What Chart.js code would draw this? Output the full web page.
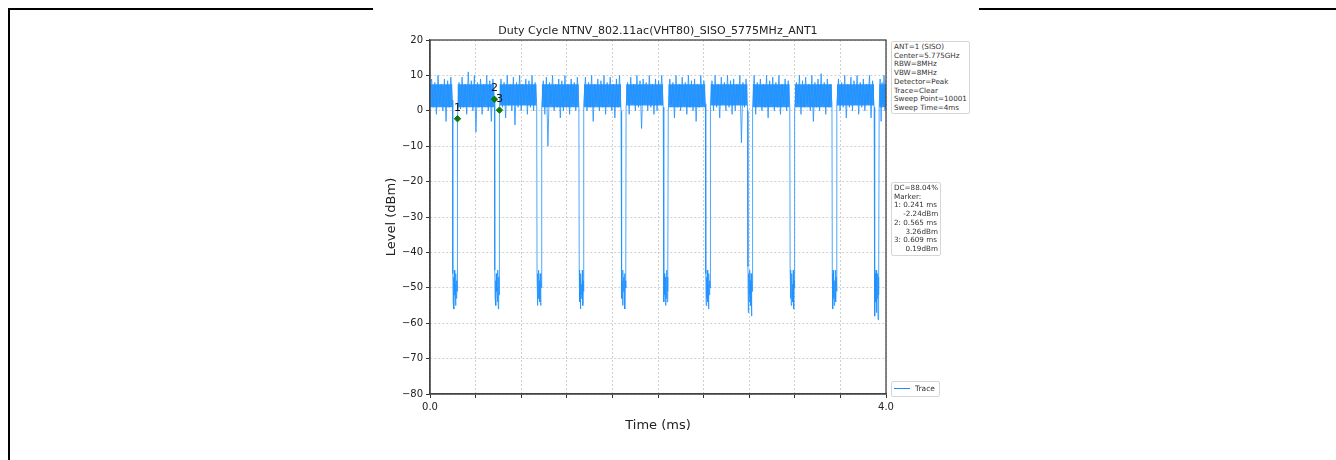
<!DOCTYPE html>
<html>
<head>
<meta charset="utf-8">
<script src="https://cdn.jsdelivr.net/npm/chart.js@4.4.0/dist/chart.umd.min.js"></script>
<style>
  html, body { margin: 0; padding: 0; background: #fff; }
  body { width: 1336px; height: 460px; position: relative; overflow: hidden; font-family: "DejaVu Sans", sans-serif; }
  #chart { position: absolute; left: 0; top: 0; }
  .rule { position: absolute; background: #000; }
  .title { position: absolute; left: 430px; width: 456px; top: 24px; text-align: center; font-size: 11px; color: #222; line-height: 13px; }
  .box { position: absolute; background: #fff; border: 1px solid #d6d6d6; border-radius: 2px; font-size: 7.2px; line-height: 8.7px; color: #333; white-space: pre; padding: 1px 2px; }
  .swatch { display: inline-block; width: 16px; height: 1px; background: #1e90ff; vertical-align: middle; margin-right: 5px; }
</style>
</head>
<body>
<div class="rule" style="left:8px; top:8px; width:365px; height:2px;"></div>
<div class="rule" style="left:979px; top:8px; width:357px; height:2px;"></div>
<div class="rule" style="left:8px; top:8px; width:2px; height:452px;"></div>

<canvas id="chart" width="1336" height="460"></canvas>

<div class="title">Duty Cycle NTNV_802.11ac(VHT80)_SISO_5775MHz_ANT1</div>
<div class="box" style="left:891px; top:41px; width:73px; height:69px;">ANT=1 (SISO)
Center=5.775GHz
RBW=8MHz
VBW=8MHz
Detector=Peak
Trace=Clear
Sweep Point=10001
Sweep Time=4ms</div>
<div class="box" style="left:891px; top:182px; width:44px; height:70px;">DC=88.04%
Marker:
1: 0.241 ms
    -2.24dBm
2: 0.565 ms
     3.26dBm
3: 0.609 ms
     0.19dBm</div>
<div class="box" style="left:891px; top:381px; width:43px; height:12px; line-height:12px; font-size:7.5px;"><span class="swatch"></span>Trace</div>

<script>
// burst on/off timing (ms)
const burstStart = [0.000, 0.241, 0.609, 0.980, 1.350, 1.720, 2.090, 2.460, 2.830, 3.200, 3.570, 3.940];
const burstEnd   = [0.197, 0.565, 0.936, 1.306, 1.676, 2.046, 2.416, 2.786, 3.156, 3.526, 3.896, 4.000];

// level samples inside each burst (dBm)
const burstA = [5, 9, 1, 8, -1, 10, 2, 7.5, 0, 9, -3, 8.5, 1, 9.5, 3];
const burstB = [-2, 8, 0.5, 9.5, 1, 7.5, -1, 11, 2, 8.5, 0, 10, -6, 8, 1, 9, -1, 7.5, 2, 10, 0, 8.5, -3, 9, 3];
const burstC = [0, 9, 1, 8, -2, 10, 1.5, 7.5, 0, 9.5, -4, 8, 1, 10, 0, 7.5, 2, 9, -1, 8.5, 1, 10, 0, 8, 2];
const burstD = [1, 8.5, -1, 9.5, -10, 8, 2, 10, 0, 7.5, 1, 9, -2, 8.5, 0, 10, 1, 7.5, -1, 9, 2, 8, 0, 9.5, 1];
const burstE = [2, 9.5, 0, 8, 1, 10, -3, 7.5, 2, 9, 0, 8.5, 1, 10, -1, 8, 2, 9.5, 0, 7.5, -2, 9, 1, 10, 0];
const burstF = [1, 8, -1, 9.5, 2, 7.5, 0, 10, 1, 8.5, -5, 9, 2, 8, 0, 10, 1, 7.5, -1, 9, 0, 8.5, 2, 10, 1];
const burstG = [0, 9, 2, 8, -2, 10, 1, 7.5, 0, 9.5, 2, 8, -1, 10, 1, 8.5, 0, 9, -3, 7.5, 1, 10, 2, 8.5, 2];
const burstH = [2, 8.5, 0, 10, 1, 7.5, -2, 9.5, 2, 8, 0, 10, 1, 8.5, -1, 9, 0, 7.5, 2, 10, -9, 8, 1, 9, 0];
const burstI = [1, 10, -1, 8, 2, 9, 0, 7.5, 1, 10, -2, 8.5, 2, 9.5, 0, 8, 1, 10, -1, 7.5, 2, 9, 0, 8.5, 1];
const burstJ = [0, 8, 2, 10, -1, 8.5, 1, 9.5, 2, 7.5, 0, 10, -3, 8, 1, 9, 0, 10.5, 2, 8, -1, 9, 1, 7.5, 2];
const burstK = [2, 9, 0, 8, 1, 10, -2, 7.5, 1, 9.5, 0, 8.5, 2, 10, -1, 8, 1, 9, 0, 7.5, 2, 10, -2, 8.5, 1];
const burstL = [1, 9, -3, 8, 2, 10, 0, 8.5];
const bursts = [burstA, burstB, burstC, burstD, burstE, burstF, burstG, burstH, burstI, burstJ, burstK, burstL];

// dense core of each burst (dBm)
const bandHigh = [7.5, 7.5, 7.5, 7.5, 7.5, 7.5, 7.5, 7.5, 7.5, 7.5, 7.5, 7.5];
const bandLow  = [1, 1, 1.5, 1, 1, 1.5, 1, 1.5, 1, 1, 1.5, 1];

// level samples in the off-gaps (dBm)
const gap1  = [-46, -54, -47, -56, -45, -52, -49, -55, -46, -53, -48, -51];
const gap2  = [-45, -53, -48, -55, -46, -51, -50, -54, -45, -56, -47, -52];
const gap3  = [-46, -55, -47, -53, -45, -52, -48, -54, -46, -55, -47, -50];
const gap4  = [-45, -54, -47, -56, -46, -53, -49, -52, -45, -55, -48, -51];
const gap5  = [-46, -53, -48, -55, -45, -51, -47, -54, -46, -56, -48, -50];
const gap6  = [-45, -54, -46, -52, -47, -55, -48, -53, -45, -54, -47, -51];
const gap7  = [-46, -55, -47, -53, -45, -54, -49, -56, -46, -52, -48, -50];
const gap8  = [-44, -57, -46, -54, -45, -52, -48, -55, -46, -58, -47, -51];
const gap9  = [-45, -53, -47, -55, -46, -52, -49, -54, -45, -56, -48, -50];
const gap10 = [-46, -56, -45, -53, -47, -55, -48, -52, -45, -54, -47, -51];
const gap11 = [-44, -58, -46, -54, -45, -57, -48, -53, -46, -59, -47, -52];
const gaps = [gap1, gap2, gap3, gap4, gap5, gap6, gap7, gap8, gap9, gap10, gap11];

// markers
const markerNames  = ['1', '2', '3'];
const markerTimes  = [0.241, 0.565, 0.609];
const markerLevels = [-2.24, 3.26, 0.19];

const yTicks = [20, 10, 0, -10, -20, -30, -40, -50, -60, -70, -80];

// build trace points
const traceData = [];
bursts.forEach((levels, i) => {
    const t0 = burstStart[i], t1 = burstEnd[i];
    levels.forEach((v, k) => traceData.push({ x: t0 + (t1 - t0) * k / (levels.length - 1), y: v }));
    if (i < gaps.length) {
        const g = gaps[i];
        const g0 = t1 + 0.003, g1 = burstStart[i + 1] - 0.003;
        g.forEach((v, k) => traceData.push({ x: g0 + (g1 - g0) * k / (g.length - 1), y: v }));
    }
});

const bandTop = [], bandBottom = [];
burstStart.forEach((t0, i) => {
    bandTop.push({ x: t0, y: bandHigh[i] }, { x: burstEnd[i], y: bandHigh[i] });
    bandBottom.push({ x: t0, y: bandLow[i] }, { x: burstEnd[i], y: bandLow[i] });
    if (i < burstStart.length - 1) {
        bandTop.push({ x: burstEnd[i] + 0.01, y: null });
        bandBottom.push({ x: burstEnd[i] + 0.01, y: null });
    }
});

const markerData = markerTimes.map((t, i) => ({ x: t, y: markerLevels[i] }));

// frame round the plot + marker numbers
const framePlugin = {
    id: 'framePlugin',
    afterDatasetsDraw(chart) {
        const { ctx, chartArea, scales } = chart;
        ctx.save();
        ctx.fillStyle = '#111';
        ctx.font = '11px "DejaVu Sans"';
        ctx.textAlign = 'center';
        ctx.textBaseline = 'middle';
        markerNames.forEach((name, i) => {
            const px = scales.x.getPixelForValue(markerTimes[i]);
            const py = scales.y.getPixelForValue(markerLevels[i]);
            ctx.fillText(name, px, py - 11);
        });
        ctx.strokeStyle = '#444';
        ctx.lineWidth = 1.3;
        ctx.strokeRect(chartArea.left, chartArea.top, chartArea.right - chartArea.left, chartArea.bottom - chartArea.top);
        ctx.restore();
    }
};

const tickFont = { size: 10, family: 'DejaVu Sans' };
const titleFont = { size: 13, family: 'DejaVu Sans' };

const ctx = document.getElementById('chart').getContext('2d');
const chart = new Chart(ctx, {
    type: 'line',
    data: {
        datasets: [
            {
                label: 'Trace',
                data: traceData,
                borderColor: '#1e90ff',
                borderWidth: 0.8,
                pointRadius: 0,
                tension: 0,
                order: 1
            },
            {
                label: 'core',
                data: bandTop,
                borderColor: 'transparent',
                backgroundColor: 'rgba(30,144,255,0.92)',
                pointRadius: 0,
                fill: '+1',
                spanGaps: false,
                order: 2
            },
            {
                label: 'core low',
                data: bandBottom,
                borderColor: 'transparent',
                pointRadius: 0,
                fill: false,
                spanGaps: false,
                order: 3
            },
            {
                label: 'Marker',
                data: markerData,
                showLine: false,
                pointStyle: 'rectRot',
                pointRadius: 3.2,
                backgroundColor: '#0b7a0b',
                borderColor: '#0b7a0b',
                order: 0
            }
        ]
    },
    options: {
        responsive: false,
        animation: false,
        layout: { padding: { left: 380, right: 450, top: 40, bottom: 23 } },
        plugins: {
            legend: { display: false },
            tooltip: { enabled: false },
            title: { display: false }
        },
        scales: {
            x: {
                type: 'linear',
                min: 0,
                max: 4,
                afterFit: s => { s.height = 43; },
                ticks: {
                    stepSize: 0.4,
                    autoSkip: false,
                    maxRotation: 0,
                    color: '#222',
                    font: tickFont,
                    padding: 3,
                    callback: v => Math.abs(v) < 1e-6 ? '0.0' : (Math.abs(v - 4) < 1e-6 ? '4.0' : '')
                },
                grid: { color: '#c4c4c4', lineWidth: 0.8, tickColor: '#333', tickLength: 4, tickWidth: 1 },
                border: { color: '#444', width: 1.3, dash: [2, 2] },
                title: { display: true, text: 'Time (ms)', font: titleFont, color: '#222', padding: { top: 4, bottom: 4 } }
            },
            y: {
                min: -80,
                max: 20,
                afterFit: s => { s.width = 50; },
                afterBuildTicks: s => { s.ticks = yTicks.map(v => ({ value: v })); },
                ticks: {
                    color: '#222',
                    font: tickFont,
                    padding: 3,
                    callback: v => String(v).replace('-', '\u2212')
                },
                grid: { color: '#c4c4c4', lineWidth: 0.8, tickColor: '#333', tickLength: 4, tickWidth: 1 },
                border: { color: '#444', width: 1.3, dash: [2, 2] },
                title: { display: true, text: 'Level (dBm)', font: titleFont, color: '#222', padding: { top: 4, bottom: 4 } }
            }
        }
    },
    plugins: [framePlugin]
});
</script>
</body>
</html>
